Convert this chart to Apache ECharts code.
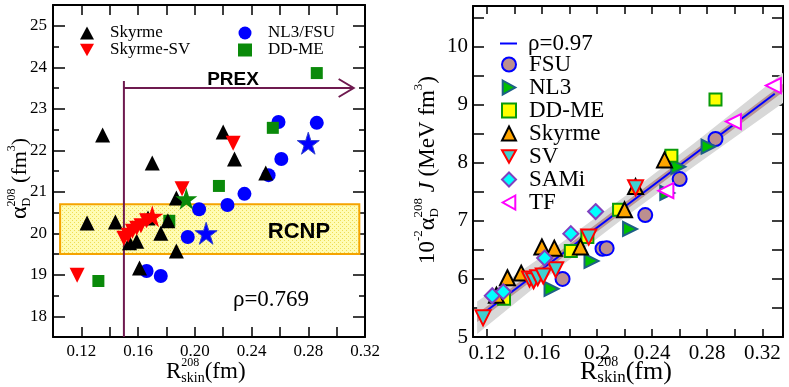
<!DOCTYPE html>
<html>
<head>
<meta charset="utf-8">
<script src="https://cdn.jsdelivr.net/npm/echarts@6/dist/echarts.min.js"></script>
<style>
html, body { margin: 0; padding: 0; background: #fff; }
#main { width: 789px; height: 387px; }
</style>
</head>
<body>
<div id="main"></div>
<script>
// ---------- left panel: alpha_D vs R_skin ----------
const leftSkyrme = [[0.124,20.25],[0.135,22.37],[0.144,20.27],[0.154,19.77],[0.159,19.81],[0.161,19.16],[0.167,20.37],
  [0.170,21.69],[0.176,20.0],[0.181,20.3],[0.187,20.85],[0.187,19.57],[0.220,22.44],[0.228,21.79],[0.250,21.45]];
const leftSV = [[0.117,18.99],[0.150,19.88],[0.153,19.95],[0.156,20.05],[0.159,20.12],[0.162,20.18],[0.166,20.3],
  [0.191,21.07],[0.227,22.17]];
const leftNL3FSU = [[0.166,19.09],[0.176,18.97],[0.195,19.91],[0.203,20.58],[0.223,20.68],[0.235,20.95],
  [0.252,21.4],[0.261,21.79],[0.259,22.68],[0.286,22.66]];
const leftDDME = [[0.132,18.85],[0.182,20.3],[0.217,21.14],[0.255,22.54],[0.286,23.86]];
const starBlue = [[0.208,20.0],[0.280,22.17]];
const starRed = [[0.170,20.41]];
const starGreen = [[0.194,20.83]];
// RCNP band [xmin, ymin, xmax, ymax], PREX marker
const rcnpBox = [0.105, 19.5, 0.316, 20.7];
const prex = [0.15, 23.67, 23.5, 0.312]; // x, top of vertical, arrow y, arrow end x

const leftYMajor = [18,19,20,21,22,23,24,25];

// ---------- right panel: 10^-2 alpha_D J vs R_skin ----------
const fsu = [[0.175,6.0],[0.204,6.52],[0.207,6.53],[0.235,7.1],[0.260,7.72],[0.286,8.41]];
const nl3 = [[0.167,5.83],[0.196,6.31],[0.224,6.86],[0.251,7.48],[0.259,7.93],[0.281,8.28]];
const ddme = [[0.1325,5.66],[0.181,6.48],[0.193,6.72],[0.216,7.19],[0.254,8.12],[0.286,9.09]];
const skyrme = [[0.127,5.72],[0.135,6.02],[0.145,6.1],[0.160,6.55],[0.169,6.53],[0.188,6.55],[0.220,7.19],[0.228,7.59],[0.249,8.05]];
const sv = [[0.1173,5.33],[0.151,6.0],[0.154,5.97],[0.157,6.02],[0.161,6.05],[0.170,6.16],[0.194,6.72],[0.228,7.57]];
const sami = [[0.124,5.71],[0.132,5.78],[0.162,6.36],[0.181,6.78],[0.199,7.16]];
const tf = [[0.250,7.52],[0.299,8.71],[0.328,9.33]];
const fitLine = [[0.117,5.40],[0.329,9.19]];
const bandR = [0.113, 0.17, 0.22, 0.27, 0.335];
const bandLo = [5.05, 6.15, 7.06, 7.93, 9.03];
const bandHi = [5.61, 6.55, 7.42, 8.33, 9.55];
const coreLo = [5.26, 6.28, 7.17, 8.06, 9.22];
const coreHi = [5.40, 6.42, 7.31, 8.20, 9.36];

const rightXTicks = [0.12,0.14,0.16,0.18,0.20,0.22,0.24,0.26,0.28,0.30,0.32];
const rightXLabels = [0.12,0.16,0.20,0.24,0.28,0.32];

const SERIF = 'Liberation Serif';
const SANS = 'Liberation Sans';
const star = 'path://M0,-1L0.2245,-0.309L0.951,-0.309L0.363,0.118L0.588,0.809L0,0.382L-0.588,0.809L-0.363,0.118L-0.951,-0.309L-0.2245,-0.309Z';
const triDown = 'path://M0,0L2,0L1,1.8Z';
const triRight = 'path://M0,0L1.8,1L0,2Z';
const triLeft = 'path://M1.8,0L0,1L1.8,2Z';

// dotted yellow fill for the RCNP band
const dots = document.createElement('canvas');
dots.width = 4; dots.height = 4;
const dc = dots.getContext('2d');
dc.fillStyle = '#fffcb4'; dc.fillRect(0, 0, 4, 4);
dc.fillStyle = '#eedd55'; dc.fillRect(0, 0, 1, 1); dc.fillRect(2, 2, 1, 1);

// stacked sub/superscript titles made of text pieces
const mctx = document.createElement('canvas').getContext('2d');
function textW(t, size, style) {
  mctx.font = (style || 'normal') + ' ' + size + 'px "' + SERIF + '"';
  return mctx.measureText(t).width;
}
function title(pieces, x, y, rotation) {
  let cx = 0;
  const children = [];
  for (const p of pieces) {
    let adv = 0;
    for (const s of p) {
      children.push({
        type: 'text', x: cx, y: s.dy || 0,
        style: { text: s.t, fontSize: s.size, fontFamily: SERIF, fontStyle: s.style || 'normal', fontWeight: 'normal',
          fill: '#000', align: 'left', verticalAlign: 'middle' }
      });
      adv = Math.max(adv, textW(s.t, s.size, s.style));
    }
    cx += adv;
  }
  return { type: 'group', x: x, y: y, rotation: rotation || 0, children: children, z: 100 };
}

const chart = echarts.init(document.getElementById('main'));

function axis(grid, pos, min, max, o) {
  return Object.assign({
    type: 'value', gridIndex: grid, position: pos, min: min, max: max,
    axisLine: { show: true, onZero: false, lineStyle: { color: '#000', width: 2 } },
    axisTick: { show: true, inside: true, length: 10, lineStyle: { color: '#000', width: 1.5 } },
    axisLabel: { show: false },
    splitLine: { show: false }
  }, o);
}
function ticks(len, o) {
  return Object.assign({ show: true, inside: true, length: len, lineStyle: { color: '#000', width: 1.5 } }, o);
}

function band(lo, hi, color) {
  return function (params, api) {
    if (params.dataIndex !== 0) return null;
    const top = bandR.map((r, i) => api.coord([r, hi[i]]));
    const bot = bandR.map((r, i) => api.coord([r, lo[i]])).reverse();
    return { type: 'polygon', shape: { points: top.concat(bot) }, style: { fill: color } };
  };
}

const serifText = { fontFamily: SERIF, fontStyle: 'normal', fontWeight: 'normal', color: '#000' };
const leftLbl = Object.assign({ show: true, fontSize: 17, lineHeight: 18, margin: 6 }, serifText);
const rightLbl = Object.assign({ show: true, fontSize: 21, lineHeight: 22, margin: 5 }, serifText);
const legText = (size, lh, pad) => Object.assign({ fontSize: size, lineHeight: lh, padding: [0, 0, 0, pad] }, serifText);

const option = {
  animation: false,
  grid: [
    { left: 53, top: 5, width: 312, height: 332, outerBoundsMode: 'none' },
    { left: 473, top: 6, width: 310, height: 331, outerBoundsMode: 'none' }
  ],
  xAxis: [
    axis(0, 'bottom', 0.10, 0.32, { interval: 0.02,
      axisLabel: Object.assign({}, leftLbl, { showMaxLabel: true,
        formatter: v => (Math.round(v * 100) % 4 === 0 ? v.toFixed(2) : '') }) }),
    axis(0, 'top', 0.10, 0.32, { interval: 0.02 }),
    axis(1, 'bottom', 0.11, 0.335, { axisTick: ticks(8, { customValues: rightXTicks }),
      axisLabel: Object.assign({}, rightLbl, { customValues: rightXLabels, formatter: v => String(+v.toFixed(2)) }) }),
    axis(1, 'top', 0.11, 0.335, { axisTick: ticks(8, { customValues: rightXTicks }) })
  ],
  yAxis: [
    axis(0, 'left', 17.5, 25.5, { interval: 0.5, axisTick: ticks(6),
      axisLabel: Object.assign({}, leftLbl, { formatter: v => (Number.isInteger(v) ? String(v) : '') }) }),
    axis(0, 'left', 17.5, 25.5, { axisLine: { show: false }, axisTick: ticks(12, { customValues: leftYMajor }) }),
    axis(0, 'right', 17.5, 25.5, { interval: 0.5, axisTick: ticks(6) }),
    axis(0, 'right', 17.5, 25.5, { axisLine: { show: false }, axisTick: ticks(12, { customValues: leftYMajor }) }),
    axis(1, 'left', 5, 10.7, { interval: 0.5, axisTick: ticks(11),
      axisLabel: Object.assign({}, rightLbl, { formatter: v => (Number.isInteger(v) ? String(v) : '') }) }),
    axis(1, 'right', 5, 10.7, { interval: 0.5, axisTick: ticks(11) })
  ],
  legend: [
    { left: 80, top: 24.5, padding: 0, orient: 'vertical', itemWidth: 14, itemHeight: 13, itemGap: 0, selectedMode: false,
      textStyle: legText(17, 15, 11), data: ['Skyrme', 'Skyrme-SV'] },
    { left: 238, top: 24.5, padding: 0, orient: 'vertical', itemWidth: 14, itemHeight: 13, itemGap: 0, selectedMode: false,
      textStyle: legText(17, 15, 11), data: ['NL3/FSU', 'DD-ME'] },
    { left: 500, top: 32, padding: 0, orient: 'vertical', itemWidth: 17, itemHeight: 2, itemGap: 0, selectedMode: false,
      icon: 'rect', textStyle: legText(23, 20, 6), data: ['ρ=0.97'] },
    { left: 501, top: 53, padding: 0, orient: 'vertical', itemWidth: 14, itemHeight: 14, itemGap: 0, selectedMode: false,
      formatter: n => n.trim(), textStyle: legText(23, 20.2, 8),
      data: ['FSU', 'NL3', 'DD-ME ', 'Skyrme ', 'SV', 'SAMi', 'TF'] }
  ],
  series: [
    // left panel
    { type: 'custom', xAxisIndex: 0, yAxisIndex: 0, z: 1, data: [rcnpBox],
      renderItem: (p, api) => {
        const a = api.coord([api.value(0), api.value(3)]);
        const b = api.coord([api.value(2), api.value(1)]);
        return { type: 'rect', shape: { x: a[0], y: a[1], width: b[0] - a[0], height: b[1] - a[1] },
          style: { fill: { image: dots, repeat: 'repeat' }, stroke: '#f5a300', lineWidth: 2 } };
      } },
    { type: 'custom', xAxisIndex: 0, yAxisIndex: 0, z: 2, data: [prex],
      renderItem: (p, api) => {
        const x = api.value(0);
        const b = api.coord([x, 17.5]), t = api.coord([x, api.value(1)]);
        const s = api.coord([x, api.value(2)]), e = api.coord([api.value(3), api.value(2)]);
        const st = { stroke: '#6e1a4f', lineWidth: 2, fill: null };
        return { type: 'group', children: [
          { type: 'line', shape: { x1: b[0], y1: b[1], x2: t[0], y2: t[1] }, style: st },
          { type: 'line', shape: { x1: s[0], y1: s[1], x2: e[0], y2: e[1] }, style: st },
          { type: 'polyline', shape: { points: [[e[0] - 15, e[1] - 9], e, [e[0] - 15, e[1] + 9]] }, style: st }
        ] };
      } },
    { name: 'NL3/FSU', type: 'scatter', xAxisIndex: 0, yAxisIndex: 0, z: 3, data: leftNL3FSU,
      symbol: 'circle', symbolSize: 14, itemStyle: { color: '#0000ff', opacity: 1 } },
    { name: 'DD-ME', type: 'scatter', xAxisIndex: 0, yAxisIndex: 0, z: 3, data: leftDDME,
      symbol: 'rect', symbolSize: 12, itemStyle: { color: '#0a8a0a', opacity: 1 } },
    { name: 'Skyrme', type: 'scatter', xAxisIndex: 0, yAxisIndex: 0, z: 3, data: leftSkyrme,
      symbol: 'triangle', symbolSize: 15, itemStyle: { color: '#000', opacity: 1 } },
    { name: 'Skyrme-SV', type: 'scatter', xAxisIndex: 0, yAxisIndex: 0, z: 3, data: leftSV,
      symbol: triDown, symbolSize: 15, itemStyle: { color: '#ff0000', opacity: 1 } },
    { name: 'star-b', type: 'scatter', xAxisIndex: 0, yAxisIndex: 0, z: 4, data: starBlue,
      symbol: star, symbolSize: 22, itemStyle: { color: '#0000ff', borderColor: '#3344cc', borderWidth: 1, opacity: 1 } },
    { name: 'star-r', type: 'scatter', xAxisIndex: 0, yAxisIndex: 0, z: 4, data: starRed,
      symbol: star, symbolSize: 22, itemStyle: { color: '#ff0000', opacity: 1 } },
    { name: 'star-g', type: 'scatter', xAxisIndex: 0, yAxisIndex: 0, z: 4, data: starGreen,
      symbol: star, symbolSize: 22, itemStyle: { color: '#0a8a0a', opacity: 1 } },

    // right panel
    { type: 'custom', xAxisIndex: 2, yAxisIndex: 4, z: 1, clip: true,
      data: bandR.map((r, i) => [r, bandLo[i], bandHi[i]]), renderItem: band(bandLo, bandHi, '#d8d8d8') },
    { type: 'custom', xAxisIndex: 2, yAxisIndex: 4, z: 1, clip: true,
      data: bandR.map((r, i) => [r, coreLo[i], coreHi[i]]), renderItem: band(coreLo, coreHi, '#b99595') },
    { name: 'ρ=0.97', type: 'line', xAxisIndex: 2, yAxisIndex: 4, z: 2, data: fitLine, symbol: 'none',
      lineStyle: { color: '#0000ff', width: 2 }, itemStyle: { color: '#0000ff' } },
    { name: 'FSU', type: 'scatter', xAxisIndex: 2, yAxisIndex: 4, z: 3, data: fsu, symbol: 'circle', symbolSize: 14,
      itemStyle: { color: '#bc8f8f', borderColor: '#0000ff', borderWidth: 2, opacity: 1 } },
    { name: 'NL3', type: 'scatter', xAxisIndex: 2, yAxisIndex: 4, z: 3, data: nl3, symbol: triRight,
      symbolSize: 14, itemStyle: { color: '#00c000', borderColor: '#1d5f86', borderWidth: 2, opacity: 1 } },
    { name: 'DD-ME ', type: 'scatter', xAxisIndex: 2, yAxisIndex: 4, z: 3, data: ddme, symbol: 'rect', symbolSize: 12,
      itemStyle: { color: '#ffff00', borderColor: '#0a9a0a', borderWidth: 2, opacity: 1 } },
    { name: 'Skyrme ', type: 'scatter', xAxisIndex: 2, yAxisIndex: 4, z: 3, data: skyrme, symbol: 'triangle', symbolSize: 15,
      itemStyle: { color: '#ffa500', borderColor: '#000', borderWidth: 2, opacity: 1 } },
    { name: 'SV', type: 'scatter', xAxisIndex: 2, yAxisIndex: 4, z: 3, data: sv, symbol: triDown,
      symbolSize: 15, itemStyle: { color: '#40d0d0', borderColor: '#ff0000', borderWidth: 2, opacity: 1 } },
    { name: 'SAMi', type: 'scatter', xAxisIndex: 2, yAxisIndex: 4, z: 3, data: sami, symbol: 'diamond', symbolSize: 15,
      itemStyle: { color: '#00ffff', borderColor: '#8040c0', borderWidth: 2, opacity: 1 } },
    { name: 'TF', type: 'scatter', xAxisIndex: 2, yAxisIndex: 4, z: 3, data: tf, symbol: triLeft,
      symbolSize: 15, itemStyle: { color: '#ffffff', borderColor: '#ff00ff', borderWidth: 2, opacity: 1 } }
  ],
  graphic: [
    { type: 'text', x: 233, y: 80, z: 100, style: { text: 'PREX', fontFamily: SANS, fontWeight: 'bold', fontSize: 19,
      fill: '#000', align: 'center', verticalAlign: 'middle' } },
    { type: 'text', x: 299, y: 232, z: 100, style: { text: 'RCNP', fontFamily: SANS, fontWeight: 'bold', fontSize: 22,
      fill: '#000', align: 'center', verticalAlign: 'middle' } },
    { type: 'text', x: 271, y: 300, z: 100, style: { text: 'ρ=0.769', fontFamily: SERIF, fontStyle: 'normal',
      fontWeight: 'normal', fontSize: 23, fill: '#000', align: 'center', verticalAlign: 'middle' } },
    title([[{ t: 'α', size: 24 }], [{ t: '208', size: 12, dy: -8 }, { t: 'D', size: 12, dy: 7 }],
      [{ t: ' (fm', size: 22 }], [{ t: '3', size: 12, dy: -8 }], [{ t: ')', size: 22 }]], 20, 219, Math.PI / 2),
    title([[{ t: 'R', size: 23 }], [{ t: '208', size: 12, dy: -9 }, { t: 'skin', size: 14, dy: 6 }],
      [{ t: '(fm)', size: 23 }]], 166, 372),
    title([[{ t: '10', size: 23 }], [{ t: '-2', size: 13, dy: -9 }], [{ t: 'α', size: 24 }],
      [{ t: '208', size: 13, dy: -9 }, { t: 'D', size: 13, dy: 7 }], [{ t: ' J', size: 23, style: 'italic' }],
      [{ t: ' (MeV fm', size: 23 }], [{ t: '3', size: 13, dy: -9 }], [{ t: ')', size: 23 }]], 428, 264, Math.PI / 2),
    title([[{ t: 'R', size: 26 }], [{ t: '208', size: 14, dy: -10 }, { t: 'skin', size: 17, dy: 6 }],
      [{ t: '(fm)', size: 26 }]], 580, 372)
  ]
};

chart.setOption(option);
// redraw once the system fonts are surely available to the canvas
Promise.all([
  document.fonts.load('17px "Liberation Serif"', '0123456789.ρ'),
  document.fonts.load('bold 20px "Liberation Sans"', 'PREX')
]).then(() => { chart.clear(); chart.setOption(option); });
</script>
</body>
</html>
